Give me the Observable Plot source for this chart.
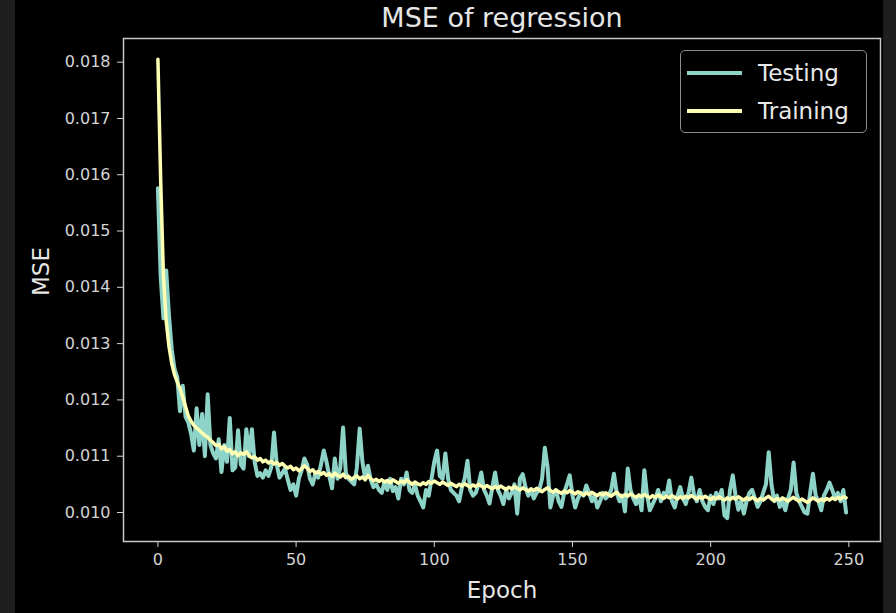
<!DOCTYPE html>
<html><head><meta charset="utf-8">
<script src="https://cdn.jsdelivr.net/npm/d3@7"></script>
<script src="https://cdn.jsdelivr.net/npm/@observablehq/plot@0.6"></script>
<style>
html,body{margin:0;padding:0;background:#000;}
#wrap{position:relative;width:896px;height:613px;overflow:hidden;background:#000;font-family:"DejaVu Sans",sans-serif;}
.strip{position:absolute;top:0;height:613px;background:#1e1e1e;}
#legend{position:absolute;left:680px;top:50px;width:185px;height:81px;border:1.5px solid #8c8c8c;border-radius:5px;background:#000;}
.lg-line{position:absolute;left:6px;width:55px;height:4px;}
.lg-text{position:absolute;left:77px;font-size:23px;color:#e8e8e8;line-height:26px;}
</style></head><body><div id="wrap"></div>
<script>
const titleText = "MSE of regression";
const xLabel = "Epoch";
const yLabel = "MSE";
const seriesNames = ["Testing", "Training"];
const seriesColors = ["#8dd3c7", "#feffb3"];
const xTicks = [0, 50, 100, 150, 200, 250];
const yTicks = [0.010, 0.011, 0.012, 0.013, 0.014, 0.015, 0.016, 0.017, 0.018];

const testing = [
0.01576,0.01420,0.01345,0.01430,0.01350,0.01290,0.01255,0.01240,0.01180,0.01225,
0.01170,0.01160,0.01140,0.01110,0.01185,0.01120,0.01175,0.01100,0.01210,0.01120,
0.01105,0.01096,0.01130,0.01072,0.01120,0.01090,0.01168,0.01075,0.01080,0.01146,
0.01085,0.01078,0.01148,0.01100,0.01148,0.01090,0.01065,0.01070,0.01062,0.01075,
0.01065,0.01080,0.01142,0.01085,0.01062,0.01070,0.01078,0.01058,0.01040,0.01050,
0.01030,0.01060,0.01075,0.01096,0.01085,0.01060,0.01050,0.01070,0.01062,0.01085,
0.01110,0.01090,0.01065,0.01043,0.01096,0.01060,0.01080,0.01151,0.01070,0.01060,
0.01055,0.01050,0.01080,0.01149,0.01090,0.01060,0.01083,0.01058,0.01045,0.01050,
0.01040,0.01035,0.01055,0.01040,0.01060,0.01038,0.01045,0.01025,0.01060,0.01050,
0.01071,0.01040,0.01035,0.01050,0.01030,0.01020,0.01009,0.01040,0.01030,0.01060,
0.01090,0.01110,0.01065,0.01060,0.01105,0.01060,0.01040,0.01035,0.01030,0.01020,
0.01045,0.01060,0.01092,0.01040,0.01030,0.01035,0.01050,0.01071,0.01040,0.01030,
0.01016,0.01045,0.01071,0.01040,0.01030,0.01015,0.01040,0.01025,0.01035,0.01050,
0.00998,0.01060,0.01068,0.01045,0.01030,0.01040,0.01025,0.01035,0.01040,0.01060,
0.01115,0.01080,0.01009,0.01030,0.01040,0.01020,0.01010,0.01035,0.01050,0.01066,
0.01030,0.01009,0.01025,0.01035,0.01030,0.01048,0.01035,0.01020,0.01030,0.01009,
0.01020,0.01035,0.01025,0.01030,0.01040,0.01069,0.01035,0.01020,0.01030,0.01002,
0.01078,0.01040,0.01025,0.01015,0.01030,0.01004,0.01075,0.01030,0.01004,0.01015,
0.01025,0.01040,0.01020,0.01035,0.01030,0.01057,0.01020,0.01009,0.01030,0.01045,
0.01025,0.01015,0.01035,0.01062,0.01030,0.01020,0.01040,0.01020,0.01010,0.01004,
0.01030,0.01015,0.01035,0.01025,0.01040,0.00995,0.00990,0.01040,0.01066,0.01030,
0.01005,0.01020,0.00998,0.01020,0.01035,0.01040,0.01025,0.01010,0.01020,0.01035,
0.01050,0.01107,0.01050,0.01020,0.01030,0.01010,0.01020,0.01004,0.01025,0.01040,
0.01089,0.01035,0.01020,0.01010,0.01000,0.00998,0.01035,0.01069,0.01030,0.01020,
0.01004,0.01030,0.01040,0.01053,0.01040,0.01025,0.01035,0.01020,0.01040,0.01000
];

const training = [
0.01805,0.01590,0.01420,0.01340,0.01295,0.01265,0.01245,0.01232,0.01220,0.01205,
0.01188,0.01172,0.01162,0.01155,0.01150,0.01146,0.01141,0.01137,0.01134,0.01128,
0.01124,0.01119,0.01121,0.01113,0.01117,0.01109,0.01112,0.01104,0.01108,0.01101,
0.01106,0.01103,0.01108,0.01101,0.01097,0.01099,0.01093,0.01096,0.01090,0.01093,
0.01088,0.01091,0.01086,0.01089,0.01084,0.01087,0.01082,0.01079,0.01082,0.01076,
0.01079,0.01074,0.01078,0.01083,0.01079,0.01073,0.01076,0.01070,0.01073,0.01068,
0.01071,0.01066,0.01069,0.01064,0.01070,0.01066,0.01063,0.01068,0.01062,0.01064,
0.01059,0.01062,0.01065,0.01060,0.01063,0.01058,0.01066,0.01060,0.01056,0.01059,
0.01055,0.01058,0.01054,0.01057,0.01053,0.01058,0.01055,0.01052,0.01056,0.01053,
0.01058,0.01054,0.01050,0.01054,0.01051,0.01049,0.01053,0.01050,0.01055,0.01052,
0.01056,0.01053,0.01050,0.01054,0.01051,0.01048,0.01052,0.01049,0.01046,0.01050,
0.01047,0.01051,0.01048,0.01045,0.01049,0.01046,0.01050,0.01047,0.01044,0.01048,
0.01045,0.01042,0.01046,0.01043,0.01047,0.01044,0.01041,0.01045,0.01042,0.01046,
0.01043,0.01040,0.01044,0.01041,0.01038,0.01042,0.01039,0.01043,0.01040,0.01037,
0.01041,0.01044,0.01039,0.01036,0.01040,0.01037,0.01034,0.01038,0.01035,0.01039,
0.01036,0.01033,0.01037,0.01034,0.01031,0.01035,0.01032,0.01036,0.01033,0.01030,
0.01034,0.01031,0.01035,0.01032,0.01029,0.01033,0.01036,0.01031,0.01028,0.01032,
0.01029,0.01033,0.01030,0.01027,0.01031,0.01028,0.01032,0.01029,0.01026,0.01030,
0.01027,0.01031,0.01028,0.01025,0.01029,0.01026,0.01030,0.01027,0.01024,0.01028,
0.01025,0.01029,0.01026,0.01030,0.01027,0.01024,0.01028,0.01025,0.01029,0.01026,
0.01023,0.01027,0.01024,0.01028,0.01025,0.01022,0.01026,0.01023,0.01027,0.01024,
0.01028,0.01025,0.01022,0.01026,0.01023,0.01027,0.01024,0.01021,0.01025,0.01022,
0.01026,0.01029,0.01024,0.01021,0.01025,0.01022,0.01026,0.01023,0.01020,0.01024,
0.01027,0.01023,0.01020,0.01024,0.01021,0.01018,0.01022,0.01026,0.01023,0.01020,
0.01024,0.01021,0.01025,0.01022,0.01026,0.01023,0.01027,0.01024,0.01028,0.01026
];

const testRows = testing.map((v, i) => ({epoch: i, mse: v}));
const trainRows = training.map((v, i) => ({epoch: i, mse: v}));

const wrap = document.getElementById("wrap");

const chart = Plot.plot({
  width: 896,
  height: 613,
  marginLeft: 123,
  marginRight: 16,
  marginTop: 38,
  marginBottom: 72,
  style: {background: "#000", color: "#d4d4d4", fontFamily: "DejaVu Sans, sans-serif", fontSize: "16px", overflow: "visible"},
  x: {domain: [-12.45, 261.45], ticks: xTicks, tickSize: 6, tickPadding: 6, label: null, tickFormat: d3.format("d")},
  y: {domain: [0.009485, 0.01842], ticks: yTicks, tickSize: 6, tickPadding: 7, label: null, tickFormat: d3.format(".3f")},
  marks: [
    Plot.line(testRows, {x: "epoch", y: "mse", stroke: seriesColors[0], strokeWidth: 4, strokeLinejoin: "round"}),
    Plot.line(trainRows, {x: "epoch", y: "mse", stroke: seriesColors[1], strokeWidth: 3.5, strokeLinejoin: "round"}),
    Plot.frame({stroke: "#c8c8c8", strokeWidth: 1.5}),
    Plot.text([titleText], {frameAnchor: "top", dy: -20, fontSize: 27, fill: "#e6e6e6", lineAnchor: "middle"}),
    Plot.text([xLabel], {frameAnchor: "bottom", dy: 49, fontSize: 23, fill: "#e6e6e6", lineAnchor: "middle"}),
    Plot.text([yLabel], {frameAnchor: "left", dx: -82, dy: 6, rotate: -90, fontSize: 23, fill: "#e6e6e6", lineAnchor: "middle"})
  ]
});
wrap.appendChild(chart);

const ls = document.createElement("div"); ls.className = "strip"; ls.style.left = "0px"; ls.style.width = "15px"; wrap.appendChild(ls);
const rs = document.createElement("div"); rs.className = "strip"; rs.style.left = "883px"; rs.style.width = "13px"; wrap.appendChild(rs);

const legend = document.createElement("div");
legend.id = "legend";
seriesNames.forEach((name, i) => {
  const line = document.createElement("div");
  line.className = "lg-line";
  line.style.top = (20 + i * 38) + "px";
  line.style.background = seriesColors[i];
  legend.appendChild(line);
  const t = document.createElement("div");
  t.className = "lg-text";
  t.style.top = (9 + i * 38) + "px";
  t.textContent = name;
  legend.appendChild(t);
});
wrap.appendChild(legend);
</script>
</body></html>
